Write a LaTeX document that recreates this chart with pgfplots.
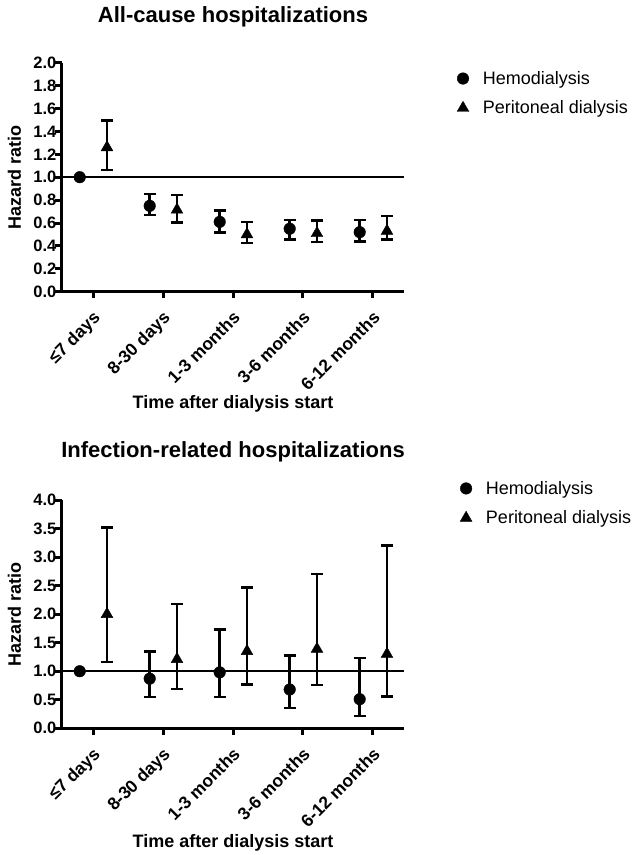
\documentclass[border=0pt]{standalone}
\usepackage{fontspec}
\setmainfont{Liberation Sans}
\usepackage{pgfplots}
\pgfplotsset{compat=1.18}
\usepackage{pgfplotstable}

% all-cause hospitalizations
\pgfplotstableread{
x     y     lo     hi
0.81  0.75  0.67   0.855
1.81  0.61  0.515  0.71
2.81  0.55  0.455  0.625
3.81  0.52  0.44   0.625
}\allHD
\pgfplotstableread{
x     y     lo     hi
0.2   1.26  1.065  1.495
1.2   0.715 0.605  0.845
2.2   0.50  0.425  0.61
3.2   0.51  0.435  0.62
4.2   0.53  0.455  0.66
}\allPD

% infection-related hospitalizations
\pgfplotstableread{
x     y     lo     hi
0.81  0.87  0.55   1.35
1.81  0.98  0.545  1.73
2.81  0.68  0.36   1.28
3.81  0.51  0.22   1.23
}\infHD
\pgfplotstableread{
x     y     lo     hi
0.2   2.00  1.16   3.52
1.2   1.21  0.69   2.18
2.2   1.35  0.77   2.47
3.2   1.39  0.755  2.70
4.2   1.30  0.56   3.20
}\infPD

\pgfplotsset{
  hr/.style={
    scale only axis, width=342pt,
    xmin=-0.443, xmax=4.443, ymin=0,
    axis x line*=bottom, axis y line*=left,
    axis line style={line width=3pt, -},
    every tick/.style={line width=3pt, black},
    tick align=outside, major tick length=6.5pt,
    xtick={0,...,4},
    xticklabels={≤7 days, 8-30 days, 1-3 months, 3-6 months, 6-12 months},
    x tick label style={xshift=-1pt, yshift=-10pt, rotate=45, anchor=north east, inner sep=1pt,
      font=\fontsize{17.5}{19}\selectfont\bfseries},
    y tick label style={xshift=2pt, inner sep=1pt, font=\fontsize{16.5}{18}\selectfont\bfseries,
      /pgf/number format/.cd, fixed, fixed zerofill, precision=1},
    /pgf/number format/assume math mode=true,
    xlabel={Time after dialysis start},
    ylabel={Hazard ratio},
    label style={font=\fontsize{18}{20}\selectfont\bfseries},
    xlabel style={at={(axis description cs:0.5,0)}, anchor=center, yshift=-112pt},
    ylabel style={at={(axis description cs:-0.1389,0.5)}, anchor=center},
    title style={at={(axis description cs:0.5,1)}, anchor=center,
      font=\fontsize{22}{24}\selectfont\bfseries},
    legend style={draw=none, fill=none, anchor=north west,
      font=\fontsize{18}{20}\selectfont, row sep=11pt,
      /tikz/every odd column/.append style={column sep=12pt}},
    legend cell align=left,
  },
  hd/.style={black, only marks, mark=*, mark size=5.8pt,
    mark options={solid, line width=0.4pt}},
  pd/.style={black, only marks, mark=triangle*, mark size=6.8pt,
    mark options={solid, line width=0.4pt}},
  ebar/.style={error bars/.cd, y dir=both, y explicit,
    error bar style={line width=2.5pt},
    error mark options={rotate=90, mark size=6pt, line width=2.5pt}},
}

\begin{document}
\begin{tikzpicture}

\begin{axis}[hr, height=229pt, ymax=2.0, ytick={0,0.2,...,2.01},
  title={All-cause hospitalizations}, title style={yshift=40pt},
  legend style={at={(1.146,0.981)}}]
\addplot[black, line width=2.2pt, forget plot] coordinates {(-0.443,1) (4.443,1)};
\addplot[hd, forget plot] coordinates {(-0.19,1.0)};
\addplot[hd, ebar] table[x=x, y=y,
  y error plus expr=\thisrow{hi}-\thisrow{y},
  y error minus expr=\thisrow{y}-\thisrow{lo}] {\allHD};
\addplot[pd, ebar] table[x=x, y=y,
  y error plus expr=\thisrow{hi}-\thisrow{y},
  y error minus expr=\thisrow{y}-\thisrow{lo}] {\allPD};
\legend{Hemodialysis, Peritoneal dialysis}
\end{axis}

\begin{axis}[hr, at={(0,-436.6pt)}, height=228.3pt, ymax=4.0, ytick={0,0.5,...,4.01},
  title={Infection-related hospitalizations}, title style={yshift=42pt},
  xlabel style={yshift=-3pt},
  legend style={at={(1.155,1.1008)}}]
\addplot[black, line width=2.2pt, forget plot] coordinates {(-0.443,1) (4.443,1)};
\addplot[hd, forget plot] coordinates {(-0.19,1.0)};
\addplot[hd, ebar] table[x=x, y=y,
  y error plus expr=\thisrow{hi}-\thisrow{y},
  y error minus expr=\thisrow{y}-\thisrow{lo}] {\infHD};
\addplot[pd, ebar] table[x=x, y=y,
  y error plus expr=\thisrow{hi}-\thisrow{y},
  y error minus expr=\thisrow{y}-\thisrow{lo}] {\infPD};
\legend{Hemodialysis, Peritoneal dialysis}
\end{axis}

% page frame: 638 x 855, axis origin at (62,291.7) from the top left
\pgfresetboundingbox
\useasboundingbox (-62pt,291.7pt) rectangle (576pt,-563.3pt);
\end{tikzpicture}
\end{document}
